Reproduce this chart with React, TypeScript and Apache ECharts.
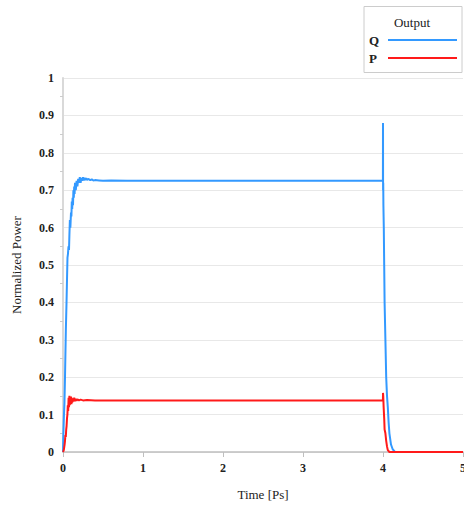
import React, { useEffect, useRef } from "react";
import * as echarts from "echarts";

const xTicks = [0, 1, 2, 3, 4, 5];

const qTime = [0, 0.005, 0.012, 0.018, 0.025, 0.03, 0.036, 0.044, 0.05, 0.056, 0.062, 0.069, 0.075, 0.08, 0.086, 0.092, 0.1, 0.105, 0.11, 0.115, 0.12, 0.125, 0.13, 0.135, 0.14, 0.145, 0.15, 0.16, 0.17, 0.18, 0.19, 0.2, 0.21, 0.22, 0.23, 0.24, 0.25, 0.26, 0.27, 0.28, 0.29, 0.3, 0.32, 0.34, 0.36, 0.38, 0.4, 0.45, 0.5, 0.6, 0.8, 1.0, 2.0, 3.0, 3.999, 4.0, 4.001, 4.003, 4.005, 4.01, 4.015, 4.02, 4.03, 4.04, 4.05, 4.06, 4.07, 4.08, 4.1, 4.12, 4.15, 5];
const qValue = [0, 0.05, 0.1, 0.13, 0.2, 0.26, 0.33, 0.4, 0.46, 0.52, 0.53, 0.55, 0.54, 0.58, 0.62, 0.6, 0.64, 0.63, 0.67, 0.65, 0.68, 0.66, 0.7, 0.68, 0.71, 0.69, 0.72, 0.7, 0.725, 0.71, 0.73, 0.72, 0.735, 0.72, 0.733, 0.725, 0.735, 0.726, 0.733, 0.727, 0.732, 0.728, 0.73, 0.727, 0.729, 0.726, 0.727, 0.726, 0.725, 0.726, 0.725, 0.725, 0.725, 0.725, 0.725, 0.88, 0.7, 0.72, 0.66, 0.6, 0.5, 0.4, 0.3, 0.2, 0.15, 0.12, 0.08, 0.05, 0.02, 0.008, 0, 0];

const pTime = [0, 0.01, 0.02, 0.025, 0.03, 0.035, 0.04, 0.045, 0.05, 0.055, 0.06, 0.065, 0.07, 0.075, 0.08, 0.085, 0.09, 0.095, 0.1, 0.105, 0.11, 0.115, 0.12, 0.13, 0.14, 0.15, 0.16, 0.17, 0.18, 0.2, 0.22, 0.25, 0.3, 0.4, 1, 2, 3, 3.999, 4.0, 4.003, 4.008, 4.015, 4.02, 4.03, 4.04, 4.05, 4.06, 4.08, 4.1, 5];
const pValue = [0, 0.005, 0.02, 0.03, 0.045, 0.04, 0.06, 0.07, 0.09, 0.1, 0.125, 0.11, 0.145, 0.12, 0.15, 0.125, 0.145, 0.13, 0.148, 0.128, 0.145, 0.132, 0.143, 0.135, 0.145, 0.136, 0.142, 0.137, 0.141, 0.138, 0.14, 0.138, 0.139, 0.138, 0.138, 0.138, 0.138, 0.138, 0.158, 0.15, 0.12, 0.09, 0.06, 0.05, 0.03, 0.015, 0.005, 0, 0, 0];

const seriesNames = ["Q", "P"];
const seriesColors = ["#3399ff", "#ff1a1a"];
const legendTitle = "Output";
const xName = "Time [Ps]";
const yName = "Normalized Power";

const FONT = "'Liberation Serif', 'DejaVu Serif', serif";

export default function App() {
  const ref = useRef<HTMLDivElement>(null);
  useEffect(() => {
    if (!ref.current) return;
    const chart = echarts.init(ref.current, null, { renderer: "svg" });
    const qData = qTime.map((t, i) => [t, qValue[i]]);
    const pData = pTime.map((t, i) => [t, pValue[i]]);
    const legendItems: any[] = [];
    seriesNames.forEach((name, i) => {
      const y = 40 + i * 18;
      legendItems.push({
        type: "text",
        x: 369,
        y,
        style: { text: name, font: `bold 13px ${FONT}`, fill: "#222", verticalAlign: "middle" },
      });
      legendItems.push({
        type: "line",
        shape: { x1: 388, y1: y, x2: 457, y2: y },
        style: { stroke: seriesColors[i], lineWidth: 2 },
      });
    });
    chart.setOption({
      animation: false,
      backgroundColor: "#ffffff",
      textStyle: { fontFamily: FONT },
      grid: { left: 63, right: 1, top: 78, bottom: 57, containLabel: false, outerBoundsMode: "none" },
      graphic: [
        {
          type: "rect",
          shape: { x: 364, y: 6.5, width: 98, height: 66 },
          style: { fill: "#ffffff", stroke: "#cccccc", lineWidth: 1 },
        },
        {
          type: "text",
          x: 412,
          y: 22,
          style: { text: legendTitle, font: `13px ${FONT}`, fill: "#222", align: "center", verticalAlign: "middle" },
        },
        ...legendItems,
      ],
      xAxis: {
        type: "value",
        min: 0,
        max: 5,
        interval: 1,
        name: xName,
        nameLocation: "middle",
        nameGap: 36,
        nameTextStyle: { fontFamily: FONT, fontSize: 13, color: "#222" },
        axisLine: { lineStyle: { color: "#bfbfbf", width: 1.5 } },
        axisTick: { show: true, length: 5, lineStyle: { color: "#bfbfbf" } },
        axisLabel: {
          fontFamily: FONT,
          fontSize: 12,
          color: "#222",
          fontWeight: "bold",
          margin: 10,
          formatter: (v: number) => (xTicks.includes(v) ? String(v) : ""),
        },
        splitLine: { show: false },
      },
      yAxis: {
        type: "value",
        min: 0,
        max: 1,
        interval: 0.1,
        name: yName,
        nameLocation: "middle",
        nameGap: 40,
        nameTextStyle: { fontFamily: FONT, fontSize: 13, color: "#222" },
        axisLine: { show: true, lineStyle: { color: "#d9d9d9", width: 2 } },
        axisTick: { show: false },
        minorTick: { show: true, splitNumber: 2, length: 3, lineStyle: { color: "#cccccc" } },
        axisLabel: {
          fontFamily: FONT,
          fontSize: 12,
          color: "#222",
          fontWeight: "bold",
          margin: 9,
          formatter: (v: number) => String(Math.round(v * 10) / 10),
        },
        splitLine: { show: true, lineStyle: { color: "#e8e8e8", width: 1 } },
      },
      series: [
        {
          name: seriesNames[0],
          type: "line",
          data: qData,
          showSymbol: false,
          symbol: "none",
          lineStyle: { color: seriesColors[0], width: 2 },
          itemStyle: { color: seriesColors[0] },
        },
        {
          name: seriesNames[1],
          type: "line",
          data: pData,
          showSymbol: false,
          symbol: "none",
          lineStyle: { color: seriesColors[1], width: 2 },
          itemStyle: { color: seriesColors[1] },
        },
      ],
    });
    return () => chart.dispose();
  }, []);
  return <div ref={ref} style={{ width: 464, height: 509, position: "absolute", left: 0, top: 0 }} />;
}
